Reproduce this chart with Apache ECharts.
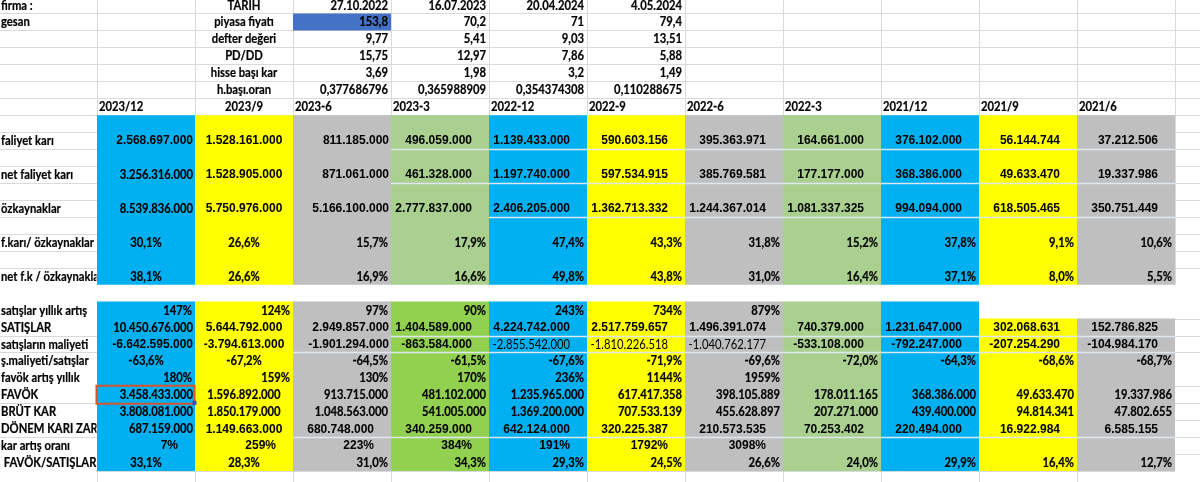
<!DOCTYPE html>
<html><head><meta charset="utf-8">
<script src="https://cdn.jsdelivr.net/npm/echarts@6/dist/echarts.min.js"></script>
<style>html,body{margin:0;padding:0;background:#fff}#c{width:1200px;height:482px}</style>
</head><body><div id="c"></div>
<script>
// ================= DATA =================
const firmaAdi = 'gesan';
const tarihler = ['27.10.2022', '16.07.2023', '20.04.2024', '4.05.2024'];
const piyasaFiyati = [153.8, 70.2, 71, 79.4];
const defterDegeri = [9.77, 5.41, 9.03, 13.51];
const pdDd = [15.75, 12.97, 7.86, 5.88];
const hisseBasiKar = [3.69, 1.98, 3.2, 1.49];
const hBasiOran = [0.377686796, 0.365988909, 0.354374308, 0.110288675];

const donemler = ['2023/12', '2023/9', '2023-6', '2023-3', '2022-12', '2022-9', '2022-6', '2022-3', '2021/12', '2021/9', '2021/6'];
const faliyetKari = [2568697000, 1528161000, 811185000, 496059000, 1139433000, 590603156, 395363971, 164661000, 376102000, 56144744, 37212506];
const netFaliyetKari = [3256316000, 1528905000, 871061000, 461328000, 1197740000, 597534915, 385769581, 177177000, 368386000, 49633470, 19337986];
const ozkaynaklar = [8539836000, 5750976000, 5166100000, 2777837000, 2406205000, 1362713332, 1244367014, 1081337325, 994094000, 618505465, 350751449];
const fKariOzk = [30.1, 26.6, 15.7, 17.9, 47.4, 43.3, 31.8, 15.2, 37.8, 9.1, 10.6];
const netFkOzk = [38.1, 26.6, 16.9, 16.6, 49.8, 43.8, 31.0, 16.4, 37.1, 8.0, 5.5];

const satisYillikArtis = [147, 124, 97, 90, 243, 734, 879, null, null, null, null];
const satislar = [10450676000, 5644792000, 2949857000, 1404589000, 4224742000, 2517759657, 1496391074, 740379000, 1231647000, 302068631, 152786825];
const satisMaliyeti = [-6642595000, -3794613000, -1901294000, -863584000, -2855542000, -1810226518, -1040762177, -533108000, -792247000, -207254290, -104984170];
const smOrani = [-63.6, -67.2, -64.5, -61.5, -67.6, -71.9, -69.6, -72.0, -64.3, -68.6, -68.7];
const favokYillikArtis = [180, 159, 130, 170, 236, 1144, 1959, null, null, null, null];
const favok = [3458433000, 1596892000, 913715000, 481102000, 1235965000, 617417358, 398105889, 178011165, 368386000, 49633470, 19337986];
const brutKar = [3808081000, 1850179000, 1048563000, 541005000, 1369200000, 707533139, 455628897, 207271000, 439400000, 94814341, 47802655];
const donemKari = [687159000, 1149663000, 680748000, 340259000, 642124000, 320225387, 210573535, 70253402, 220494000, 16922984, 6585155];
const karArtisOrani = [7, 259, 223, 384, 191, 1792, 3098, null, null, null, null];
const favokSatis = [33.1, 28.3, 31.0, 34.3, 29.3, 24.5, 26.6, 24.0, 29.9, 16.4, 12.7];

// ================= FORMATTERS =================
function fInt(n) { const s = Math.abs(n).toString().replace(/\B(?=(\d{3})+(?!\d))/g, '.'); return (n < 0 ? '-' : '') + s; }
function fGen(n) { return String(n).replace('.', ','); }
function fP1(n) { return n.toFixed(1).replace('.', ',') + '%'; }
function fP0(n) { return n + '%'; }

// ================= STYLES =================
const FONTS = {
  A: { family: '"Liberation Sans", Arial, sans-serif', size: 12, weight: 'bold', sx: 1, sw: 0 },
  C: { family: 'Lato, "Open Sans", sans-serif', size: 12.5, weight: 'bold', sx: 0.9, sw: 0.2 },
  N: { family: 'Lato, "Open Sans", sans-serif', size: 12.5, weight: 'normal', sx: 0.9, sw: 0 }
};
const BLUE = '#00B0F0', YEL = '#FFFF00', GRAY = '#BFBFBF', LGRN = '#A9D08E', BGRN = '#92D050';
const upperColors = [BLUE, YEL, GRAY, LGRN, BLUE, YEL, GRAY, LGRN, BLUE, YEL, GRAY];
const lowerColors = [BLUE, YEL, GRAY, BGRN, BLUE, YEL, GRAY, LGRN, BLUE, YEL, GRAY];

function st(b, c, d, rest, over) {
  const a = [b, c, d]; for (let i = 3; i < 11; i++) a.push(rest);
  if (over) Object.keys(over).forEach(k => { a[+k] = over[k]; });
  return a;
}

// ================= CELLS =================
const cells = [];
function put(c, r, text, s, clip) { if (text !== null && text !== undefined) cells.push({ c, r, text, s, clip: !!clip }); }

// top info block
put(0, 0, 'firma :', 'Cl2');
put(0, 1, firmaAdi, 'Cl2');
const topRows = [
  ['TARİH', tarihler, x => x],
  ['piyasa fiyatı', piyasaFiyati, fGen],
  ['defter değeri', defterDegeri, fGen],
  ['PD/DD', pdDd, fGen],
  ['hisse başı kar', hisseBasiKar, fGen],
  ['h.başı.oran', hBasiOran, fGen]
];
topRows.forEach((row, r) => {
  put(2, r, row[0], 'Cc');
  row[1].forEach((v, i) => put(3 + i, r, row[2](v), 'Cr3'));
});
// header row
donemler.forEach((d, i) => put(1 + i, 6, d, i === 1 ? 'Cc' : 'Cl2'));

const mainRows = [
  [8, 'faliyet karı', faliyetKari, fInt, st('Ar2', 'Ac', 'Ar2', 'Ar17')],
  [10, 'net faliyet karı', netFaliyetKari, fInt, st('Cr2', 'Ac', 'Ar2', 'Ar17')],
  [12, 'özkaynaklar', ozkaynaklar, fInt, st('Cr2', 'Ac', 'Ar2', 'Ar17')],
  [14, 'f.karı/ özkaynaklar', fKariOzk, fP1, st('Cc', 'Cc', 'Cr3', 'Cr3')],
  [16, 'net f.k / özkaynaklar', netFkOzk, fP1, st('Cc', 'Cc', 'Cr3', 'Cr3')],
  [18, 'satışlar yıllık artış', satisYillikArtis, fP0, st('Cr3', 'Cr3', 'Cr3', 'Cr3')],
  [19, 'SATIŞLAR', satislar, fInt, st('Cr2', 'Ac', 'Ar2', 'Ar17')],
  [20, 'satışların maliyeti', satisMaliyeti, fInt, st('Ar2', 'Ac', 'Ar2', 'Ar17', { 4: 'Nr17', 5: 'Nr17', 6: 'Nr17' })],
  [21, 'ş.maliyeti/satışlar', smOrani, fP1, st('Cc', 'Cc', 'Cr3', 'Cr3')],
  [22, 'favök artış yıllık', favokYillikArtis, fP0, st('Cr3', 'Cr3', 'Cr3', 'Cr3')],
  [23, 'FAVÖK', favok, fInt, st('Cr2', 'Cc', 'Cr3', 'Cr3')],
  [24, 'BRÜT KAR', brutKar, fInt, st('Cr2', 'Cc', 'Cr3', 'Cr3')],
  [25, 'DÖNEM KARI ZARARI', donemKari, fInt, st('Cr2', 'Ac', 'Ar17', 'Ar17')],
  [26, 'kar artış oranı', karArtisOrani, fP0, st('Ar17', 'Ar17', 'Ar17', 'Ar17')],
  [27, ' FAVÖK/SATIŞLAR', favokSatis, fP1, st('Cc', 'Cc', 'Cr3', 'Cr3')]
];
mainRows.forEach(([r, label, vals, fmt, styles]) => {
  put(0, r, label, 'Cl2', true);
  vals.forEach((v, i) => { if (v !== null) put(1 + i, r, fmt(v), styles[i]); });
});

// ================= FILLS / LINES (layout) =================
const fills = []; // [c0, r0, c1, r1, color]
fills.push([0, 17, 13, 18, '#ffffff']);
fills.push([0, 18, 1, 30, '#ffffff']);
fills.push([12, 18, 13, 30, '#ffffff']);
fills.push([10, 18, 12, 19, '#ffffff']);
upperColors.forEach((col, i) => fills.push([1 + i, 7, 2 + i, 17, col]));
lowerColors.forEach((col, i) => fills.push([1 + i, i >= 9 ? 19 : 18, 2 + i, 28, col]));
fills.push([3, 1, 4, 2, '#4472C4']);

const grid = []; // [orientation 0=h/1=v, pos, from, to]
for (let r = 0; r <= 29; r++) grid.push([0, r, 0, 13]);
for (let c = 1; c <= 13; c++) grid.push([1, c, 0, 30]);

const borders = []; // [r, c0, c1, color, width]
[20, 21, 24, 26].forEach(r => borders.push([r, 0, 1, '#d9d9d9', 1]));
[19, 20, 21, 23, 24, 25, 26, 27].forEach(r => borders.push([r, 12, 13, '#d9d9d9', 1]));
borders.push([9, 4, 12, '#dfe7f0', 1.5]);
borders.push([11, 4, 12, '#dfe7f0', 1.5]);
borders.push([13, 5, 12, '#dfe7f0', 1.5]);
borders.push([20, 4, 12, '#dfe7f0', 1.5]);
borders.push([21, 3, 12, '#dfe7f0', 1.5]);
borders.push([26, 3, 12, '#dfe7f0', 1.5]);

const selection = [[1, 23]];

// ================= RENDER =================
function renderGrid(params, api) {
  const o = api.value(0), p = api.value(1), a = api.value(2), b = api.value(3);
  let p1, p2;
  if (o === 0) { p1 = api.coord([a, p]); p2 = api.coord([b, p]); }
  else { p1 = api.coord([p, a]); p2 = api.coord([p, b]); }
  const x1 = Math.round(p1[0]) + 0.5, y1 = Math.round(p1[1]) + 0.5;
  return { type: 'line', shape: o === 0 ? { x1: p1[0], y1: y1, x2: p2[0], y2: y1 } : { x1: x1, y1: p1[1], x2: x1, y2: p2[1] }, style: { stroke: '#dadada', lineWidth: 1 } };
}
function renderFill(params, api) {
  const f = fills[params.dataIndex];
  const p0 = api.coord([api.value(0), api.value(1)]), p1 = api.coord([api.value(2), api.value(3)]);
  return { type: 'rect', shape: { x: p0[0], y: p0[1], width: p1[0] - p0[0], height: p1[1] - p0[1] }, style: { fill: f[4] } };
}
function renderBorder(params, api) {
  const b = borders[params.dataIndex];
  const p0 = api.coord([api.value(1), api.value(0)]), p1 = api.coord([api.value(2), api.value(0)]);
  const y = Math.round(p0[1]) + 0.5;
  return { type: 'line', shape: { x1: p0[0], y1: y, x2: p1[0], y2: y }, style: { stroke: b[3], lineWidth: b[4] } };
}
function renderSel(params, api) {
  const p0 = api.coord([api.value(0), api.value(1)]), p1 = api.coord([api.value(0) + 1, api.value(1) + 1]);
  return { type: 'group', children: [
    { type: 'rect', shape: { x: p0[0] - 0.5, y: p0[1] - 0.5, width: p1[0] - p0[0], height: p1[1] - p0[1] + 1 }, style: { fill: 'none', stroke: '#D9532F', lineWidth: 2 } },
    { type: 'rect', shape: { x: p1[0] - 2.5, y: p1[1] - 2.5, width: 4, height: 4 }, style: { fill: '#3947c4' } }
  ] };
}
function renderText(params, api) {
  const cell = cells[params.dataIndex];
  const c = api.value(0), r = api.value(1);
  const p0 = api.coord([c, r]), p1 = api.coord([c + 1, r + 1]);
  const cy = (p0[1] + p1[1]) / 2 + 0.5;
  const f = FONTS[cell.s[0]];
  const al = cell.s.slice(1);
  let x, align;
  if (al === 'c') { x = (p0[0] + p1[0]) / 2; align = 'center'; }
  else if (al[0] === 'r') { x = p1[0] - (+al.slice(1)); align = 'right'; }
  else { x = p0[0] + (+al.slice(1)); align = 'left'; }
  const style = { text: cell.text, x: 0, y: 0, align: align, verticalAlign: 'middle', fontFamily: f.family, fontSize: f.size, fontWeight: f.weight, fill: '#000' };
  if (f.sw) { style.stroke = '#000'; style.lineWidth = f.sw; }
  const t = { type: 'text', x: x, y: cy, scaleX: f.sx, style: style };
  if (cell.clip) {
    return { type: 'group', clipPath: { type: 'rect', shape: { x: 0, y: p0[1], width: p1[0] - 0.5, height: p1[1] - p0[1] } }, children: [t] };
  }
  return t;
}

const chart = echarts.init(document.getElementById('c'));
chart.setOption({
  animation: false,
  backgroundColor: '#ffffff',
  grid: { left: 0, right: 0, top: 0, bottom: 0 },
  xAxis: { type: 'value', min: 1 / 98, max: 1201 / 98, show: false },
  yAxis: { type: 'value', inverse: true, min: 3.5 / 16.95, max: 485.5 / 16.95, show: false },
  series: [
    { type: 'custom', z: 1, renderItem: renderGrid, data: grid, silent: true },
    { type: 'custom', z: 2, renderItem: renderFill, data: fills.map(f => f.slice(0, 4)), silent: true },
    { type: 'custom', z: 3, renderItem: renderBorder, data: borders.map(b => b.slice(0, 3)), silent: true },
    { type: 'custom', z: 4, renderItem: renderSel, data: selection, silent: true },
    { type: 'custom', z: 5, renderItem: renderText, data: cells.map(c => [c.c, c.r]), silent: true }
  ]
});
</script>
</body></html>
